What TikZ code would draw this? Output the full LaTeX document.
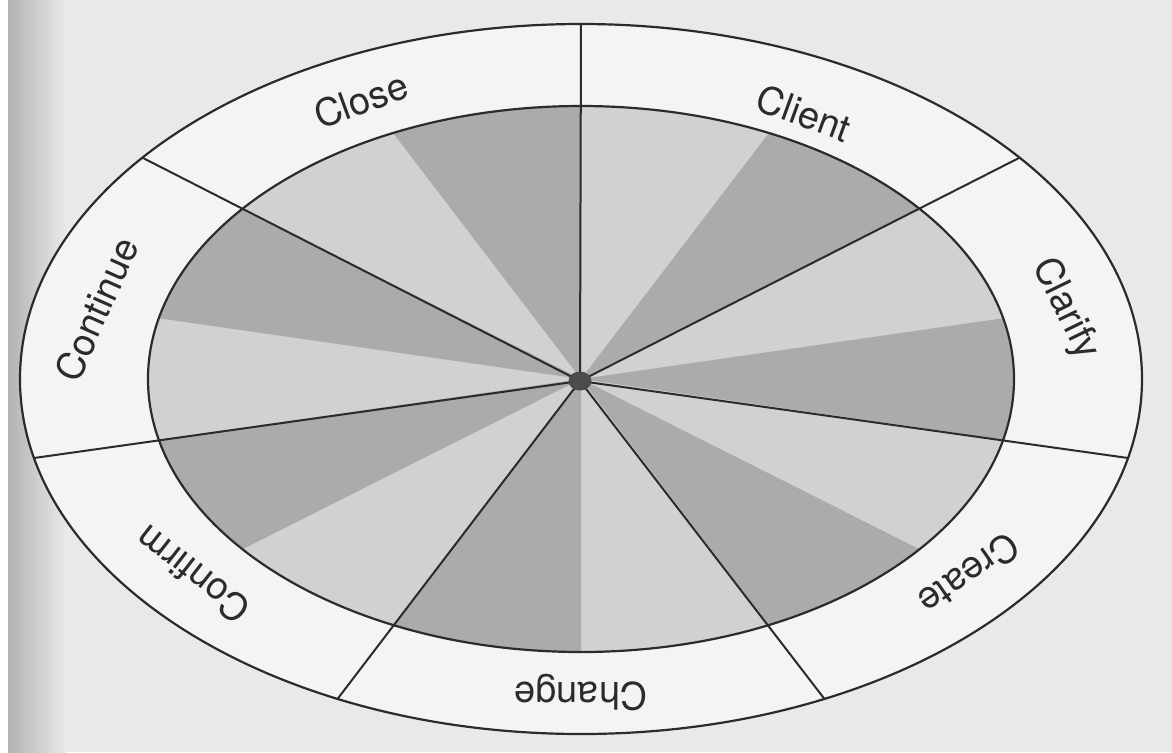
\documentclass[tikz,border=0pt]{standalone}
\usepackage{fontspec}
\setmainfont{TeX Gyre Heros}
\usetikzlibrary{shapes.geometric}
\begin{document}
\begin{tikzpicture}[x=0.5pt,y=0.5pt]
\definecolor{bg}{gray}{0.915}
\definecolor{ringc}{gray}{0.955}
\definecolor{lightw}{gray}{0.82}
\definecolor{darkw}{gray}{0.67}
\definecolor{ink}{gray}{0.17}
\tikzset{
  divline/.style={line width=1pt, draw=ink},
  rim/.style={line width=1.1pt, draw=ink},
  lbl/.style={font=\fontsize{19}{19}\selectfont, text=ink, inner sep=0pt},
  hubdot/.style={ellipse, fill=black!70, minimum width=11.5pt, minimum height=9.5pt, inner sep=0pt},
}
\useasboundingbox (-581,-373) rectangle (591,379);
% background (photographed page)
\fill[bg] (-581,-373) rectangle (591,379);
\shade[left color=gray!60, right color=bg] (-573,-373) rectangle (-515,379);
\fill[white] (-581,-373) rectangle (-573,379);
% ring and inner disc
\fill[ringc] (0,0) ellipse [x radius=561, y radius=355];
\fill[lightw] (0,0) ellipse [x radius=433, y radius=273];
% dark half-wedges
\begin{scope}[xscale=433, yscale=273]
  \foreach \k in {0,...,6} {
    \pgfmathsetmacro\a{90-\k*360/7}
    \pgfmathsetmacro\b{\a+180/7}
    \fill[darkw] (0,0) -- (\a:1) arc[start angle=\a, end angle=\b, radius=1] -- cycle;
  }
\end{scope}
% outlines
\draw[rim] (0,0) ellipse [x radius=433, y radius=273];
\draw[rim] (0,0) ellipse [x radius=561, y radius=355];
% spokes
\coordinate (hc) at (-1,-2);
\foreach \k in {0,...,6} {
  \pgfmathsetmacro\a{90-\k*360/7}
  \coordinate (o\k) at (\a:561 and 355);
  \draw[divline] (hc) -- (o\k);
}
\node[hubdot] (hub) at (hc) {};
% labels
\node[lbl, rotate=20]  (lClose)    at (-220,279) {Close};
\node[lbl, rotate=-20] (lClient)   at (223,266)  {Client};
\node[lbl, rotate=-64] (lClarify)  at (12.857:497 and 314)  {Clarify};
\node[lbl, rotate=215] (lCreate)   at (-38.571:497 and 314) {Create};
\node[lbl, rotate=180] (lChange)   at (-90:497 and 314)     {Change};
\node[lbl, rotate=142] (lConfirm)  at (-141.429:497 and 314) {Confirm};
\node[lbl, rotate=66]  (lContinue) at (167.143:497 and 314) {Continue};
\end{tikzpicture}
\end{document}
